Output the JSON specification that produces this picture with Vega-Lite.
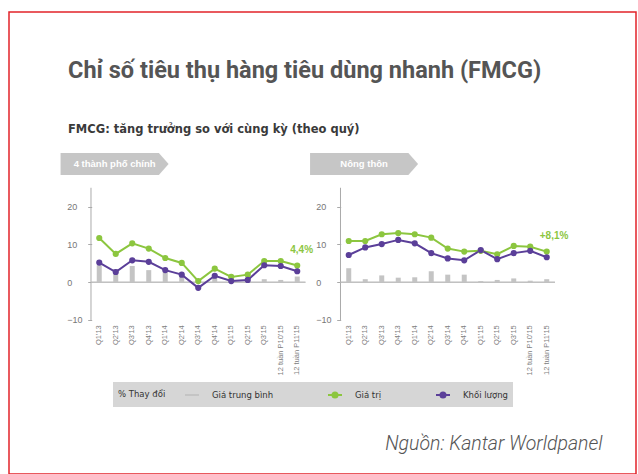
{
  "$schema": "https://vega.github.io/schema/vega-lite/v6.json",
  "width": 638,
  "height": 474,
  "autosize": {"type": "fit", "contains": "padding"},
  "padding": {"left": 9, "top": 12, "right": 2, "bottom": 0},
  "background": "white",
  "title": {
    "text": "Chỉ số tiêu thụ hàng tiêu dùng nhanh (FMCG)",
    "subtitle": "FMCG: tăng trưởng so với cùng kỳ (theo quý)",
    "anchor": "start",
    "frame": "group",
    "dx": 59,
    "offset": -123,
    "font": "Roboto",
    "fontSize": 23.5,
    "fontWeight": "bold",
    "color": "#555555",
    "subtitleFont": "DejaVu Sans",
    "subtitleFontSize": 11.5,
    "subtitleFontWeight": "bold",
    "subtitleColor": "#3a3a3a",
    "subtitlePadding": 41
  },
  "datasets": {
    "fmcg": [
      {"panel": "4 thành phố chính", "period": "Q1'13", "series": "Giá trị", "value": 11.7},
      {"panel": "4 thành phố chính", "period": "Q2'13", "series": "Giá trị", "value": 7.5},
      {"panel": "4 thành phố chính", "period": "Q3'13", "series": "Giá trị", "value": 10.3},
      {"panel": "4 thành phố chính", "period": "Q4'13", "series": "Giá trị", "value": 8.9},
      {"panel": "4 thành phố chính", "period": "Q1'14", "series": "Giá trị", "value": 6.4},
      {"panel": "4 thành phố chính", "period": "Q2'14", "series": "Giá trị", "value": 5.1},
      {"panel": "4 thành phố chính", "period": "Q3'14", "series": "Giá trị", "value": 0.3},
      {"panel": "4 thành phố chính", "period": "Q4'14", "series": "Giá trị", "value": 3.6},
      {"panel": "4 thành phố chính", "period": "Q1'15", "series": "Giá trị", "value": 1.4},
      {"panel": "4 thành phố chính", "period": "Q2'15", "series": "Giá trị", "value": 2.0},
      {"panel": "4 thành phố chính", "period": "Q3'15", "series": "Giá trị", "value": 5.6},
      {"panel": "4 thành phố chính", "period": "12 tuần P10'15", "series": "Giá trị", "value": 5.6},
      {"panel": "4 thành phố chính", "period": "12 tuần P11'15", "series": "Giá trị", "value": 4.4, "note": "4,4%"},
      {"panel": "4 thành phố chính", "period": "Q1'13", "series": "Khối lượng", "value": 5.2},
      {"panel": "4 thành phố chính", "period": "Q2'13", "series": "Khối lượng", "value": 2.7},
      {"panel": "4 thành phố chính", "period": "Q3'13", "series": "Khối lượng", "value": 5.8},
      {"panel": "4 thành phố chính", "period": "Q4'13", "series": "Khối lượng", "value": 5.4},
      {"panel": "4 thành phố chính", "period": "Q1'14", "series": "Khối lượng", "value": 3.2},
      {"panel": "4 thành phố chính", "period": "Q2'14", "series": "Khối lượng", "value": 2.0},
      {"panel": "4 thành phố chính", "period": "Q3'14", "series": "Khối lượng", "value": -1.5},
      {"panel": "4 thành phố chính", "period": "Q4'14", "series": "Khối lượng", "value": 1.7},
      {"panel": "4 thành phố chính", "period": "Q1'15", "series": "Khối lượng", "value": 0.3},
      {"panel": "4 thành phố chính", "period": "Q2'15", "series": "Khối lượng", "value": 0.6},
      {"panel": "4 thành phố chính", "period": "Q3'15", "series": "Khối lượng", "value": 4.5},
      {"panel": "4 thành phố chính", "period": "12 tuần P10'15", "series": "Khối lượng", "value": 4.3},
      {"panel": "4 thành phố chính", "period": "12 tuần P11'15", "series": "Khối lượng", "value": 2.9},
      {"panel": "4 thành phố chính", "period": "Q1'13", "series": "Giá trung bình", "value": 4.5},
      {"panel": "4 thành phố chính", "period": "Q2'13", "series": "Giá trung bình", "value": 3.5},
      {"panel": "4 thành phố chính", "period": "Q3'13", "series": "Giá trung bình", "value": 4.3},
      {"panel": "4 thành phố chính", "period": "Q4'13", "series": "Giá trung bình", "value": 3.2},
      {"panel": "4 thành phố chính", "period": "Q1'14", "series": "Giá trung bình", "value": 2.8},
      {"panel": "4 thành phố chính", "period": "Q2'14", "series": "Giá trung bình", "value": 1.5},
      {"panel": "4 thành phố chính", "period": "Q3'14", "series": "Giá trung bình", "value": 0.3},
      {"panel": "4 thành phố chính", "period": "Q4'14", "series": "Giá trung bình", "value": 1.2},
      {"panel": "4 thành phố chính", "period": "Q1'15", "series": "Giá trung bình", "value": 0.5},
      {"panel": "4 thành phố chính", "period": "Q2'15", "series": "Giá trung bình", "value": 0.3},
      {"panel": "4 thành phố chính", "period": "Q3'15", "series": "Giá trung bình", "value": 0.8},
      {"panel": "4 thành phố chính", "period": "12 tuần P10'15", "series": "Giá trung bình", "value": 0.6},
      {"panel": "4 thành phố chính", "period": "12 tuần P11'15", "series": "Giá trung bình", "value": 1.5},
      {"panel": "Nông thôn", "period": "Q1'13", "series": "Giá trị", "value": 10.9},
      {"panel": "Nông thôn", "period": "Q2'13", "series": "Giá trị", "value": 10.9},
      {"panel": "Nông thôn", "period": "Q3'13", "series": "Giá trị", "value": 12.7},
      {"panel": "Nông thôn", "period": "Q4'13", "series": "Giá trị", "value": 13.0},
      {"panel": "Nông thôn", "period": "Q1'14", "series": "Giá trị", "value": 12.7},
      {"panel": "Nông thôn", "period": "Q2'14", "series": "Giá trị", "value": 11.8},
      {"panel": "Nông thôn", "period": "Q3'14", "series": "Giá trị", "value": 8.9},
      {"panel": "Nông thôn", "period": "Q4'14", "series": "Giá trị", "value": 8.1},
      {"panel": "Nông thôn", "period": "Q1'15", "series": "Giá trị", "value": 8.3},
      {"panel": "Nông thôn", "period": "Q2'15", "series": "Giá trị", "value": 7.4},
      {"panel": "Nông thôn", "period": "Q3'15", "series": "Giá trị", "value": 9.6},
      {"panel": "Nông thôn", "period": "12 tuần P10'15", "series": "Giá trị", "value": 9.4},
      {"panel": "Nông thôn", "period": "12 tuần P11'15", "series": "Giá trị", "value": 8.1, "note": "+8,1%"},
      {"panel": "Nông thôn", "period": "Q1'13", "series": "Khối lượng", "value": 7.2},
      {"panel": "Nông thôn", "period": "Q2'13", "series": "Khối lượng", "value": 9.2},
      {"panel": "Nông thôn", "period": "Q3'13", "series": "Khối lượng", "value": 10.1},
      {"panel": "Nông thôn", "period": "Q4'13", "series": "Khối lượng", "value": 11.2},
      {"panel": "Nông thôn", "period": "Q1'14", "series": "Khối lượng", "value": 10.3},
      {"panel": "Nông thôn", "period": "Q2'14", "series": "Khối lượng", "value": 7.7},
      {"panel": "Nông thôn", "period": "Q3'14", "series": "Khối lượng", "value": 6.3},
      {"panel": "Nông thôn", "period": "Q4'14", "series": "Khối lượng", "value": 5.8},
      {"panel": "Nông thôn", "period": "Q1'15", "series": "Khối lượng", "value": 8.5},
      {"panel": "Nông thôn", "period": "Q2'15", "series": "Khối lượng", "value": 6.1},
      {"panel": "Nông thôn", "period": "Q3'15", "series": "Khối lượng", "value": 7.7},
      {"panel": "Nông thôn", "period": "12 tuần P10'15", "series": "Khối lượng", "value": 8.3},
      {"panel": "Nông thôn", "period": "12 tuần P11'15", "series": "Khối lượng", "value": 6.6},
      {"panel": "Nông thôn", "period": "Q1'13", "series": "Giá trung bình", "value": 3.7},
      {"panel": "Nông thôn", "period": "Q2'13", "series": "Giá trung bình", "value": 0.8},
      {"panel": "Nông thôn", "period": "Q3'13", "series": "Giá trung bình", "value": 1.8},
      {"panel": "Nông thôn", "period": "Q4'13", "series": "Giá trung bình", "value": 1.2},
      {"panel": "Nông thôn", "period": "Q1'14", "series": "Giá trung bình", "value": 1.3},
      {"panel": "Nông thôn", "period": "Q2'14", "series": "Giá trung bình", "value": 2.9},
      {"panel": "Nông thôn", "period": "Q3'14", "series": "Giá trung bình", "value": 2.0},
      {"panel": "Nông thôn", "period": "Q4'14", "series": "Giá trung bình", "value": 2.0},
      {"panel": "Nông thôn", "period": "Q1'15", "series": "Giá trung bình", "value": 0.3},
      {"panel": "Nông thôn", "period": "Q2'15", "series": "Giá trung bình", "value": 0.6},
      {"panel": "Nông thôn", "period": "Q3'15", "series": "Giá trung bình", "value": 1.0},
      {"panel": "Nông thôn", "period": "12 tuần P10'15", "series": "Giá trung bình", "value": 0.4},
      {"panel": "Nông thôn", "period": "12 tuần P11'15", "series": "Giá trung bình", "value": 0.8}
    ]
  },
  "data": {"name": "fmcg"},
  "layer": [
    {
      "transform": [{"filter": {"and": [{"field": "series", "equal": "Giá trị"}, {"field": "period", "equal": "Q1'13"}, {"field": "panel", "equal": "4 thành phố chính"}]}}],
      "mark": {"type": "rule", "color": "#aaaaaa", "strokeWidth": 1},
      "encoding": {
        "x": {"field": "panel", "type": "nominal", "bandPosition": 0, "title": "Nguồn: Kantar Worldpanel", "scale": {"domain": ["4 thành phố chính", "Nông thôn"], "paddingInner": 0.1403, "paddingOuter": 0.3267, "align": 0.503}},
        "y": {"datum": 25, "type": "quantitative", "scale": {"domain": [-50.78, 71.54], "nice": false, "zero": false},
          "axis": {"orient": "left", "offset": -82.7, "values": [-10, 0, 10, 20], "domain": false, "grid": false, "tickSize": 4, "tickColor": "#aaaaaa", "labelAlign": "left", "labelPadding": 21, "labelFontSize": 9, "labelColor": "#777777", "title": null}},
        "y2": {"datum": -10}
      }
    },
    {
      "transform": [{"filter": {"and": [{"field": "series", "equal": "Giá trị"}, {"field": "period", "equal": "Q1'13"}, {"field": "panel", "equal": "Nông thôn"}]}}],
      "mark": {"type": "rule", "color": "#aaaaaa", "strokeWidth": 1},
      "encoding": {
        "x": {"field": "panel", "type": "nominal", "bandPosition": 0, "title": "Nguồn: Kantar Worldpanel"},
        "y": {"datum": 25, "type": "quantitative", "scale": {"domain": [-50.78, 71.54], "nice": false, "zero": false},
          "axis": {"orient": "left", "offset": -331.7, "values": [-10, 0, 10, 20], "domain": false, "grid": false, "tickSize": 4, "tickColor": "#aaaaaa", "labelAlign": "left", "labelPadding": 21, "labelFontSize": 9, "labelColor": "#777777", "title": null}},
        "y2": {"datum": -10}
      }
    },
    {
      "transform": [{"filter": {"and": [{"field": "series", "equal": "Giá trị"}, {"field": "period", "equal": "Q1'13"}]}}],
      "mark": {"type": "rect", "stroke": "#bbbbbb", "strokeWidth": 1, "fillOpacity": 0},
      "encoding": {
        "x": {"field": "panel", "type": "nominal", "title": "Nguồn: Kantar Worldpanel"},
        "y": {"datum": 0, "type": "quantitative", "scale": {"domain": [-50.78, 71.54], "nice": false, "zero": false}, "axis": null},
        "y2": {"datum": 0}
      }
    },
    {
      "transform": [{"filter": {"field": "series", "equal": "Giá trung bình"}}],
      "mark": {"type": "bar", "width": 5},
      "encoding": {
        "x": {"field": "panel", "type": "nominal", "title": "Nguồn: Kantar Worldpanel"},
        "xOffset": {"field": "period", "type": "nominal", "scale": {"domain": ["Q1'13", "Q2'13", "Q3'13", "Q4'13", "Q1'14", "Q2'14", "Q3'14", "Q4'14", "Q1'15", "Q2'15", "Q3'15", "12 tuần P10'15", "12 tuần P11'15"]}},
        "y": {"field": "value", "type": "quantitative", "stack": null, "scale": {"domain": [-50.78, 71.54], "nice": false, "zero": false}, "axis": null},
        "y2": {"datum": 0},
        "color": {"field": "series", "type": "nominal",
          "scale": {"domain": ["Giá trung bình", "Giá trị", "Khối lượng"], "range": ["#c4c4c4", "#8cc63f", "#5b3f99"]},
          "legend": {
            "orient": "none", "legendX": 104, "legendY": 370, "direction": "horizontal",
            "title": "% Thay đổi", "titleOrient": "left", "titleFont": "DejaVu Sans", "titleFontSize": 8.5, "titleFontWeight": "normal", "titleColor": "#333333", "titlePadding": 18,
            "labelFont": "DejaVu Sans", "labelFontSize": 8.5, "labelColor": "#333333", "labelOffset": 12, "fillColor": "#d6d6d6", "padding": 5, "columnPadding": 50,
            "symbolSize": 196, "symbolStrokeWidth": 2, "gridAlign": "none",
            "encode": {"symbols": {"update": {
              "shape": {"signal": "datum.value === 'Giá trung bình' ? 'M-1,0L1,0' : 'M-1,0L1,0M-0.36,0A0.36,0.36,0,1,1,0.36,0A0.36,0.36,0,1,1,-0.36,0'"},
              "stroke": {"signal": "datum.value === 'Giá trung bình' ? '#777777' : scale('color', datum.value)"},
              "fill": {"signal": "datum.value === 'Giá trung bình' ? 'transparent' : scale('color', datum.value)"},
              "strokeWidth": {"value": 2},
              "opacity": {"value": 1}
            }}}
          }}
      }
    },
    {
      "transform": [{"filter": {"field": "series", "oneOf": ["Giá trị", "Khối lượng"]}}],
      "mark": {"type": "line", "strokeWidth": 2},
      "encoding": {
        "x": {"field": "panel", "type": "nominal", "title": "Nguồn: Kantar Worldpanel"},
        "xOffset": {"field": "period", "type": "nominal", "sort": null},
        "y": {"field": "value", "type": "quantitative", "scale": {"domain": [-50.78, 71.54], "nice": false, "zero": false}, "axis": null},
        "color": {"field": "series", "type": "nominal"},
        "detail": {"field": "panel"}
      }
    },
    {
      "transform": [{"filter": {"field": "series", "oneOf": ["Giá trị", "Khối lượng"]}}],
      "mark": {"type": "point", "filled": true, "size": 38, "opacity": 1},
      "encoding": {
        "x": {"field": "panel", "type": "nominal", "title": "Nguồn: Kantar Worldpanel"},
        "xOffset": {"field": "period", "type": "nominal"},
        "y": {"field": "value", "type": "quantitative", "scale": {"domain": [-50.78, 71.54], "nice": false, "zero": false}, "axis": null},
        "color": {"field": "series", "type": "nominal"}
      }
    },
    {
      "transform": [{"filter": "isValid(datum.note)"}],
      "mark": {"type": "text", "align": "left", "dx": -7, "dy": -16, "fontSize": 10, "fontWeight": "bold", "color": "#8cc63f"},
      "encoding": {
        "x": {"field": "panel", "type": "nominal", "title": "Nguồn: Kantar Worldpanel"},
        "xOffset": {"field": "period", "type": "nominal"},
        "y": {"field": "value", "type": "quantitative", "scale": {"domain": [-50.78, 71.54], "nice": false, "zero": false}, "axis": null},
        "text": {"field": "note"}
      }
    },
    {
      "transform": [{"filter": {"field": "series", "equal": "Giá trị"}}],
      "mark": {"type": "text", "angle": 270, "align": "right", "baseline": "middle", "fontSize": 7.5, "fill": "#808080"},
      "encoding": {
        "x": {"field": "panel", "type": "nominal", "title": "Nguồn: Kantar Worldpanel"},
        "xOffset": {"field": "period", "type": "nominal"},
        "y": {"datum": -11.4, "type": "quantitative", "scale": {"domain": [-50.78, 71.54], "nice": false, "zero": false}, "axis": null},
        "text": {"field": "period"}
      }
    },
    {
      "transform": [{"filter": {"and": [{"field": "series", "equal": "Giá trị"}, {"field": "period", "equal": "Q1'13"}]}}],
      "mark": {"type": "point", "filled": true, "opacity": 1, "color": "#c6c6c6", "size": 11664, "shape": "M-1,-0.204L0.82,-0.204L1,0L0.82,0.204L-1,0.204Z"},
      "encoding": {
        "x": {"field": "panel", "type": "nominal", "bandPosition": 0.11, "title": "Nguồn: Kantar Worldpanel"},
        "y": {"datum": 31.3, "type": "quantitative", "scale": {"domain": [-50.78, 71.54], "nice": false, "zero": false}, "axis": null}
      }
    },
    {
      "transform": [{"filter": {"and": [{"field": "series", "equal": "Giá trị"}, {"field": "period", "equal": "Q1'13"}]}}],
      "mark": {"type": "text", "color": "white", "fontSize": 9.5, "fontWeight": "bold", "baseline": "middle"},
      "encoding": {
        "x": {"field": "panel", "type": "nominal", "bandPosition": 0.11, "title": "Nguồn: Kantar Worldpanel"},
        "y": {"datum": 31.3, "type": "quantitative", "scale": {"domain": [-50.78, 71.54], "nice": false, "zero": false}, "axis": null},
        "text": {"field": "panel"}
      }
    }
  ],
  "resolve": {"axis": {"y": "independent"}},
  "config": {
    "font": "Liberation Sans",
    "view": {"stroke": "#e2232a", "strokeWidth": 1.5},
    "axisX": {
      "domain": false, "ticks": false, "labels": false, "grid": false,
      "titleX": 593, "titleY": -31, "titleAlign": "right", "titleBaseline": "middle", "titleAnchor": null,
      "titleFont": "Roboto", "titleFontSize": 19.5, "titleFontStyle": "italic", "titleFontWeight": 300, "titleColor": "#555555"
    }
  }
}
